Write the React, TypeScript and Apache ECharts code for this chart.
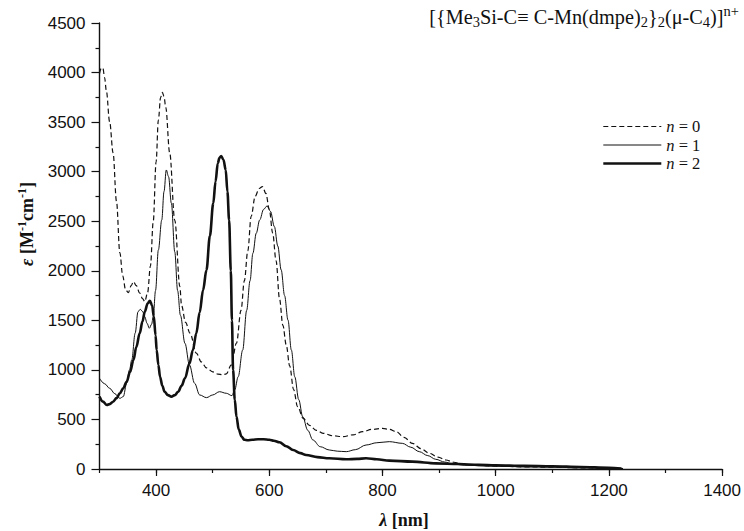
import React, { useEffect, useRef } from "react";
import * as echarts from "echarts";

const seriesNames = ["n = 0", "n = 1", "n = 2"];

const n0: [number, number][] = [
  [300, 3990], [303, 4040], [306, 4045], [309, 3950], [312, 3820], [318, 3500], [324, 3190], [330, 2700],
  [336, 2180], [341, 1950], [346, 1810], [351, 1780], [356, 1850], [360, 1890], [365, 1850], [371, 1776],
  [376, 1720], [380, 1690], [385, 1780], [390, 2050], [395, 2500], [400, 3100], [404, 3520], [408, 3750],
  [411, 3800], [414, 3760], [417, 3650], [424, 3190], [433, 2510], [442, 1840], [445, 1650], [452, 1480],
  [460, 1370], [471, 1170], [480, 1080], [489, 1020], [500, 980], [509, 958], [518, 950], [524, 960],
  [533, 1050], [542, 1270], [550, 1600], [556, 1900], [562, 2200], [568, 2550], [575, 2750], [582, 2830],
  [588, 2850], [594, 2780], [600, 2620], [606, 2380], [612, 2100], [618, 1720], [624, 1450], [630, 1250],
  [636, 1040], [643, 800], [650, 630], [660, 510], [671, 440], [683, 390], [695, 360], [712, 335],
  [730, 326], [748, 345], [765, 377], [782, 400], [800, 410], [812, 400], [824, 377], [838, 320],
  [853, 259], [868, 205], [883, 158], [898, 120], [912, 91], [926, 68], [941, 50], [960, 40],
  [1000, 30], [1050, 22], [1100, 18], [1150, 12], [1200, 8], [1225, 5],
];

const n1: [number, number][] = [
  [300, 915], [309, 860], [318, 814], [327, 760], [336, 713], [342, 730], [348, 865], [353, 1000],
  [357, 1100], [363, 1370], [368, 1587], [372, 1611], [376, 1590], [380, 1537], [384, 1470], [388, 1420],
  [392, 1460], [395, 1537], [399, 1800], [404, 2210], [410, 2512], [414, 2800], [418, 3017], [422, 2950],
  [427, 2681], [433, 2190], [438, 1800], [443, 1550], [451, 1268], [459, 1049], [468, 865], [477, 747],
  [489, 720], [500, 747], [512, 780], [524, 764], [534, 740], [539, 800], [545, 931], [553, 1200],
  [560, 1600], [566, 1900], [571, 2176], [577, 2380], [583, 2512], [590, 2620], [596, 2654], [602, 2600],
  [609, 2445], [615, 2250], [621, 2008], [627, 1750], [633, 1503], [639, 1200], [645, 931], [652, 700],
  [659, 528], [668, 390], [677, 293], [690, 225], [706, 192], [720, 180], [736, 175], [752, 195],
  [771, 242], [790, 265], [812, 276], [835, 259], [850, 220], [865, 175], [880, 135], [894, 98],
  [910, 70], [924, 50], [945, 38], [1000, 28], [1050, 22], [1100, 18], [1150, 12], [1200, 8], [1225, 5],
];

const n2: [number, number][] = [
  [300, 730], [306, 680], [313, 646], [318, 655], [324, 679], [330, 715], [336, 764], [342, 815],
  [348, 881], [354, 980], [360, 1100], [365, 1230], [371, 1369], [376, 1490], [380, 1587], [385, 1670],
  [389, 1698], [393, 1650], [396, 1537], [399, 1350], [401, 1200], [404, 1050], [407, 931], [411, 840],
  [415, 780], [421, 745], [427, 730], [433, 745], [439, 780], [445, 840], [451, 915], [459, 1066],
  [465, 1200], [471, 1369], [477, 1580], [483, 1806], [489, 2008], [495, 2350], [501, 2681], [505, 2900],
  [509, 3085], [512, 3140], [515, 3158], [519, 3120], [523, 3017], [526, 2800], [529, 2512], [532, 2000],
  [534, 1500], [536, 1000], [539, 700], [542, 528], [546, 400], [551, 326], [556, 295], [562, 290],
  [570, 295], [580, 300], [590, 300], [600, 295], [608, 285], [618, 270], [630, 230], [642, 192],
  [655, 160], [665, 141], [685, 120], [706, 108], [736, 98], [755, 102], [771, 108], [790, 98],
  [812, 84], [853, 74], [894, 57], [935, 50], [970, 42], [1000, 38], [1050, 32], [1100, 28],
  [1150, 20], [1200, 12], [1222, 5],
];

const xMajorTicks = [400, 600, 800, 1000, 1200, 1400];
const xRange = [300, 1400];
const yRange = [0, 4500];

const SERIF = "'Liberation Serif', 'Times New Roman', serif";
const SANS = "'Liberation Sans', Arial, sans-serif";

export default function App() {
  const ref = useRef<HTMLDivElement>(null);
  useEffect(() => {
    document.body.style.margin = "0";
    if (!ref.current) return;
    const chart = echarts.init(ref.current, null, { renderer: "svg" });
    const ink = "#111";
    const styles: { width: number; type: any }[] = [
      { width: 1.2, type: [5, 3] },
      { width: 1.0, type: "solid" },
      { width: 2.6, type: "solid" },
    ];
    const line = (name: string, data: [number, number][], i: number) => ({
      name,
      type: "line",
      data,
      xAxisIndex: 0,
      showSymbol: false,
      symbol: "none",
      smooth: 0.35,
      smoothMonotone: "x",
      lineStyle: { color: ink, width: styles[i].width, type: styles[i].type },
      itemStyle: { color: ink, opacity: 0 },
      z: 3,
    });
    chart.setOption({
      animation: false,
      backgroundColor: "#fff",
      grid: { left: 99.5, right: 20.5, top: 23, bottom: 62, containLabel: false },
      legend: {
        orient: "vertical",
        left: 597,
        top: 113,
        itemWidth: 58,
        itemHeight: 14,
        itemGap: 1.5,
        data: seriesNames.map((name, i) => ({
          name,
          lineStyle: { color: ink, width: styles[i].width, type: styles[i].type },
        })),
        itemStyle: { opacity: 0 },
        formatter: (name: string) => "{i|n}" + name.slice(1),
        textStyle: {
          fontFamily: SERIF,
          fontSize: 16.5,
          color: ink,
          rich: { i: { fontFamily: SERIF, fontSize: 16.5, fontStyle: "italic", color: ink } },
        },
      },
      xAxis: [
        {
          type: "value",
          min: xRange[0],
          max: xRange[1],
          interval: 100,
          axisLine: { show: true, lineStyle: { color: ink, width: 1.4 } },
          axisTick: { show: true, length: 4, lineStyle: { color: ink, width: 1.2 } },
          axisLabel: {
            formatter: (v: number) => (xMajorTicks.includes(v) ? String(v) : ""),
            fontFamily: SANS,
            fontSize: 17,
            color: ink,
            margin: 13,
          },
          splitLine: { show: false },
        },
        {
          type: "value",
          min: xRange[0],
          max: xRange[1],
          position: "bottom",
          axisLine: { show: false },
          axisTick: { show: true, length: 7, customValues: xMajorTicks, lineStyle: { color: ink, width: 1.2 } },
          axisLabel: { show: false },
          splitLine: { show: false },
        },
      ],
      yAxis: {
        type: "value",
        min: yRange[0],
        max: yRange[1],
        interval: 500,
        axisLine: { show: true, lineStyle: { color: ink, width: 1.4 } },
        axisTick: { show: true, length: 8, lineStyle: { color: ink, width: 1.2 } },
        minorTick: { show: true, splitNumber: 2, length: 4, lineStyle: { color: ink, width: 1.2 } },
        axisLabel: { fontFamily: SANS, fontSize: 17, color: ink, margin: 14, formatter: (v: number) => String(v) },
        splitLine: { show: false },
        minorSplitLine: { show: false },
      },
      series: [
        line(seriesNames[0], n0, 0),
        line(seriesNames[1], n1, 1),
        line(seriesNames[2], n2, 2),
      ],
      graphic: [
        {
          type: "text",
          right: 5,
          top: 3,
          style: {
            text: "[{Me{sub|3}Si-C≡ C-Mn(dmpe){sub|2}}{sub|2}(μ-C{sub|4})]{sup|n+}",
            fontFamily: SERIF,
            fontSize: 20.3,
            fill: ink,
            rich: {
              sub: { fontFamily: SERIF, fontSize: 14.5, padding: [10, 0, 0, 0], fill: ink },
              sup: { fontFamily: SERIF, fontSize: 14.5, padding: [0, 0, 12, 0], fill: ink },
            },
          },
        },
        {
          type: "text",
          x: 404,
          y: 520,
          style: {
            text: "{l|λ} [nm]",
            fontFamily: SERIF,
            fontWeight: "bold",
            fontSize: 18,
            fill: ink,
            align: "center",
            verticalAlign: "middle",
            rich: { l: { fontFamily: SERIF, fontWeight: "bold", fontStyle: "italic", fontSize: 18, fill: ink } },
          },
        },
        {
          type: "text",
          x: 27,
          y: 224,
          rotation: Math.PI / 2,
          style: {
            text: "{e|ε} [M{sup|-1}cm{sup|-1}]",
            fontFamily: SERIF,
            fontWeight: "bold",
            fontSize: 18,
            fill: ink,
            align: "center",
            verticalAlign: "middle",
            rich: {
              e: { fontFamily: SERIF, fontWeight: "bold", fontStyle: "italic", fontSize: 18, fill: ink },
              sup: { fontFamily: SERIF, fontWeight: "bold", fontSize: 12, padding: [0, 0, 10, 0], fill: ink },
            },
          },
        },
      ],
    });
    return () => chart.dispose();
  }, []);
  return <div ref={ref} style={{ width: 744, height: 531 }} />;
}
